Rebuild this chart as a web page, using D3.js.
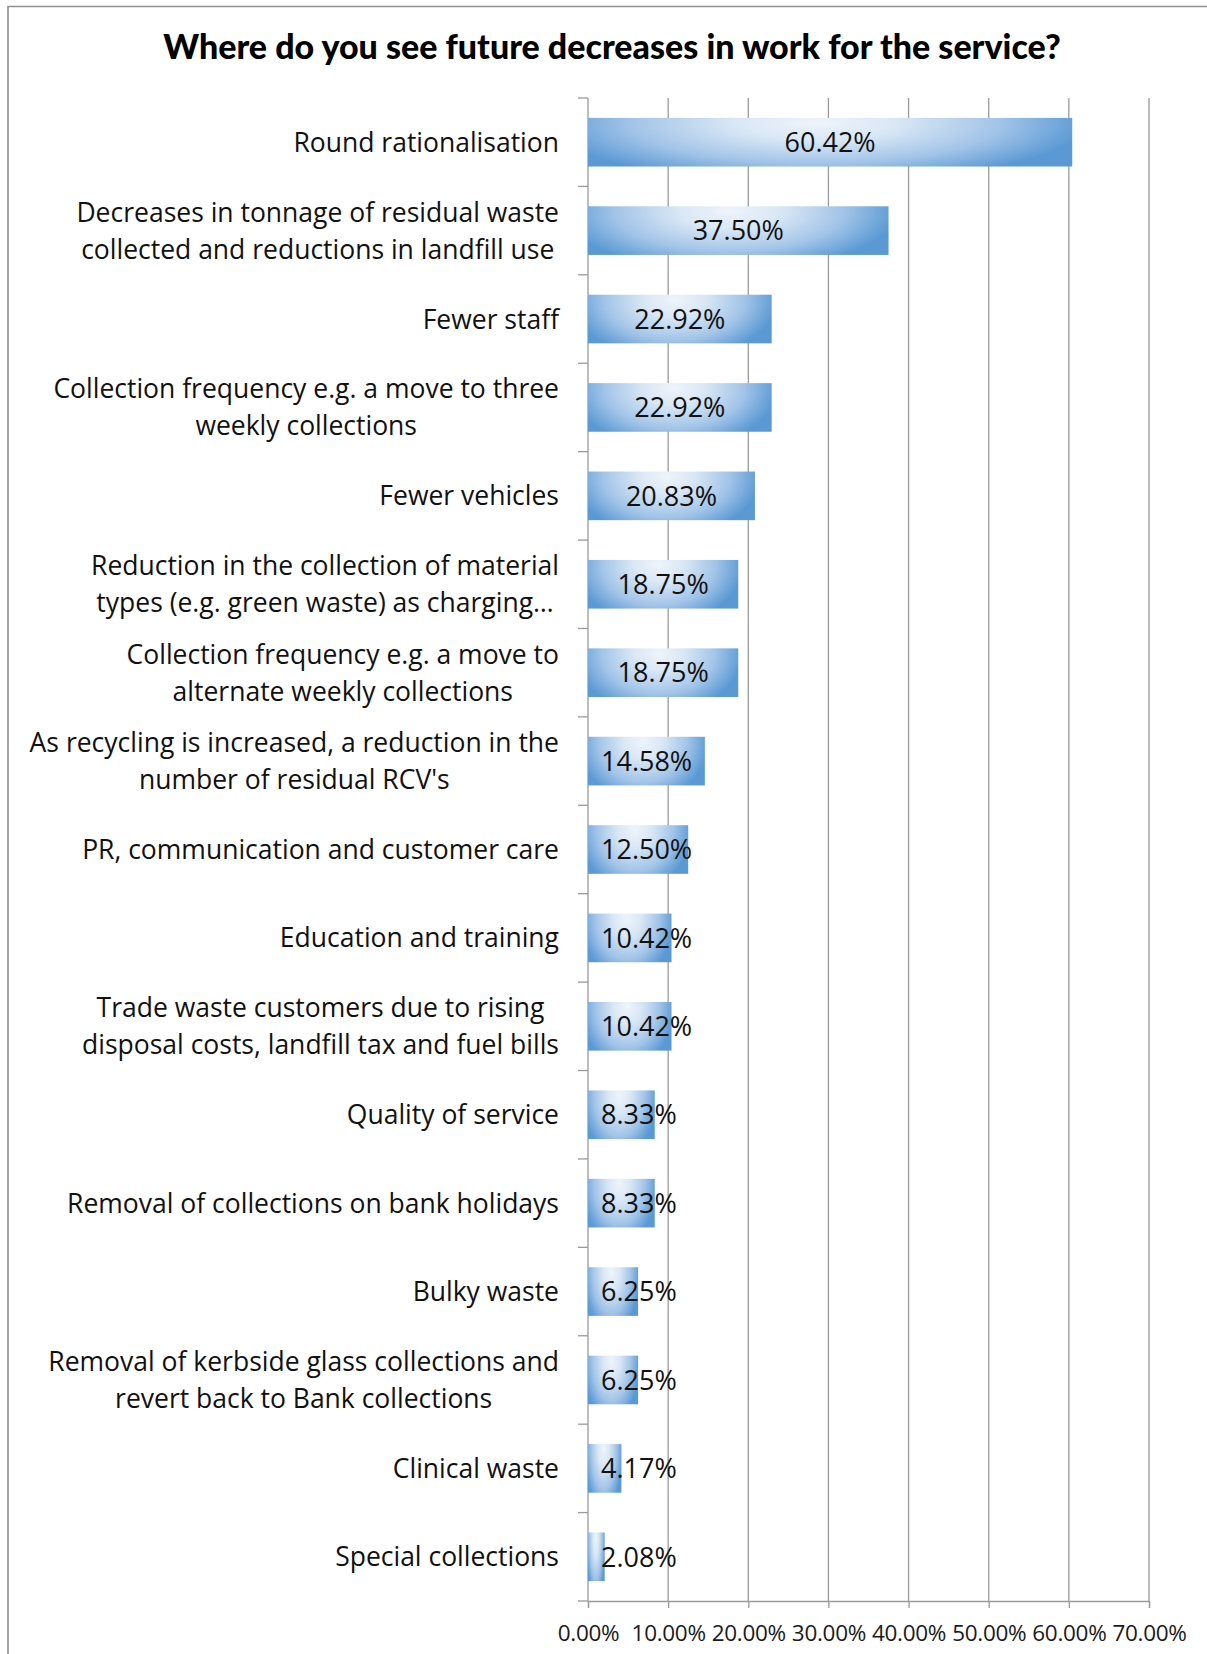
<!DOCTYPE html>
<html>
<head>
<meta charset="utf-8">
<script src="https://cdn.jsdelivr.net/npm/d3@7"></script>
<style>
  html, body { margin: 0; padding: 0; background: #ffffff; }
  svg { display: block; }
</style>
</head>
<body>
<svg id="chart" width="1207" height="1654"></svg>
<script>
// Survey responses: share of services expecting each decrease in work
const categories = [
  ["Round rationalisation"],
  ["Decreases in tonnage of residual waste", "collected and reductions in landfill use"],
  ["Fewer staff"],
  ["Collection frequency e.g. a move to three", "weekly collections"],
  ["Fewer vehicles"],
  ["Reduction in the collection of material", "types (e.g. green waste) as charging\u2026"],
  ["Collection frequency e.g. a move to", "alternate weekly collections"],
  ["As recycling is increased, a reduction in the", "number of residual RCV's"],
  ["PR, communication and customer care"],
  ["Education and training"],
  ["Trade waste customers due to rising", "disposal costs, landfill tax and fuel bills"],
  ["Quality of service"],
  ["Removal of collections on bank holidays"],
  ["Bulky waste"],
  ["Removal of kerbside glass collections and", "revert back to Bank collections"],
  ["Clinical waste"],
  ["Special collections"]
];
const values = [60.42, 37.50, 22.92, 22.92, 20.83, 18.75, 18.75, 14.58, 12.50, 10.42, 10.42, 8.33, 8.33, 6.25, 6.25, 4.17, 2.08];
const tickValues = [0, 10, 20, 30, 40, 50, 60, 70];
const title = "Where do you see future decreases in work for the service?";

const svg = d3.select("#chart");
const W = 1207, H = 1654;
const plot = { left: 588, right: 1149, top: 98, bottom: 1601 };
const FONT = "'Open Sans', 'Noto Sans', sans-serif";

// outer frame (left and top edges visible)
svg.append("path")
  .attr("d", `M8,${H} L8,6.5 L${W},6.5`)
  .attr("fill", "none")
  .attr("stroke", "#8e8e8e")
  .attr("stroke-width", 1.6);

// title
svg.append("text")
  .attr("x", 612)
  .attr("y", 59)
  .attr("text-anchor", "middle")
  .attr("font-family", "Lato, 'Open Sans', sans-serif")
  .attr("font-weight", 900)
  .attr("font-size", 34)
  .attr("fill", "#000")
  .text(title);

const x = d3.scaleLinear().domain([0, 70]).range([plot.left, plot.right]);
const idx = d3.range(values.length);
const y = d3.scaleBand()
  .domain(idx)
  .range([plot.top, plot.bottom])
  .paddingInner(0.45)
  .paddingOuter(0.225);

// bar fill: light highlight near the top middle fading to blue at the edges
const defs = svg.append("defs");
const grad = defs.append("radialGradient")
  .attr("id", "barFill")
  .attr("gradientUnits", "objectBoundingBox")
  .attr("cx", 0.47).attr("cy", 0.1).attr("r", 0.56)
  .attr("gradientTransform", "translate(0.47,0.1) scale(1,2.2) translate(-0.47,-0.1)");
[[0, "#eef4fb"], [0.3, "#d9e7f5"], [0.68, "#a2c4e8"], [1, "#5a99d4"]]
  .forEach(([o, c]) => grad.append("stop").attr("offset", o).attr("stop-color", c));

// vertical gridlines
svg.append("g")
  .selectAll("line")
  .data(tickValues.slice(1))
  .join("line")
  .attr("x1", d => x(d)).attr("x2", d => x(d))
  .attr("y1", plot.top).attr("y2", plot.bottom)
  .attr("stroke", "#9a9a9a")
  .attr("stroke-width", 1.3);

// x axis
const xAxis = svg.append("g")
  .attr("transform", `translate(0,${plot.bottom})`)
  .call(d3.axisBottom(x).tickValues(tickValues).tickSize(7).tickPadding(17)
    .tickFormat(d => d3.format(".2f")(d) + "%"));
xAxis.select(".domain").attr("stroke", "#9a9a9a").attr("stroke-width", 1.3);
xAxis.selectAll(".tick line").attr("stroke", "#9a9a9a").attr("stroke-width", 1.3);
xAxis.selectAll(".tick text")
  .attr("font-family", FONT)
  .attr("font-size", 22.5)
  .attr("letter-spacing", -0.3)
  .attr("fill", "#1a1a1a");

// y axis line with ticks at category boundaries
const yAxis = svg.append("g");
yAxis.append("line")
  .attr("x1", plot.left).attr("x2", plot.left)
  .attr("y1", plot.top).attr("y2", plot.bottom)
  .attr("stroke", "#9a9a9a").attr("stroke-width", 1.3);
yAxis.selectAll("line.tk")
  .data(d3.range(values.length + 1))
  .join("line")
  .attr("class", "tk")
  .attr("x1", plot.left - 10).attr("x2", plot.left)
  .attr("y1", i => plot.top + i * y.step())
  .attr("y2", i => plot.top + i * y.step())
  .attr("stroke", "#9a9a9a").attr("stroke-width", 1.3);

// bars
svg.append("g")
  .selectAll("rect")
  .data(idx)
  .join("rect")
  .attr("x", x(0))
  .attr("y", i => y(i))
  .attr("width", i => x(values[i]) - x(0))
  .attr("height", y.bandwidth())
  .attr("fill", "url(#barFill)");

// data labels: centred on the bar, but never starting before a small inset
const labels = svg.append("g")
  .selectAll("text")
  .data(idx)
  .join("text")
  .attr("y", i => y(i) + y.bandwidth() / 2)
  .attr("dy", "0.36em")
  .attr("text-anchor", "middle")
  .attr("font-family", FONT)
  .attr("font-size", 27)
  .attr("fill", "#111")
  .text(i => values[i].toFixed(2) + "%");
labels.each(function (i) {
  const w = this.getComputedTextLength();
  const centre = (x(0) + x(values[i])) / 2;
  d3.select(this).attr("x", Math.max(centre, x(0) + 13 + w / 2));
});

// category labels: right-aligned block, lines centred within it
const lineH = 37;
const catRight = plot.left - 29;
const cats = svg.append("g")
  .selectAll("g")
  .data(idx)
  .join("g");
cats.each(function (i) {
  const g = d3.select(this);
  const lines = categories[i];
  const cy = y(i) + y.bandwidth() / 2;
  const ts = lines.map((s, k) => g.append("text")
    .attr("y", cy + (k - (lines.length - 1) / 2) * lineH)
    .attr("dy", "0.36em")
    .attr("text-anchor", "middle")
    .attr("font-family", FONT)
    .attr("font-size", 26.5)
    .attr("fill", "#111")
    .text(s));
  const maxW = d3.max(ts, t => t.node().getComputedTextLength());
  ts.forEach(t => t.attr("x", catRight - maxW / 2));
});
</script>
</body>
</html>
